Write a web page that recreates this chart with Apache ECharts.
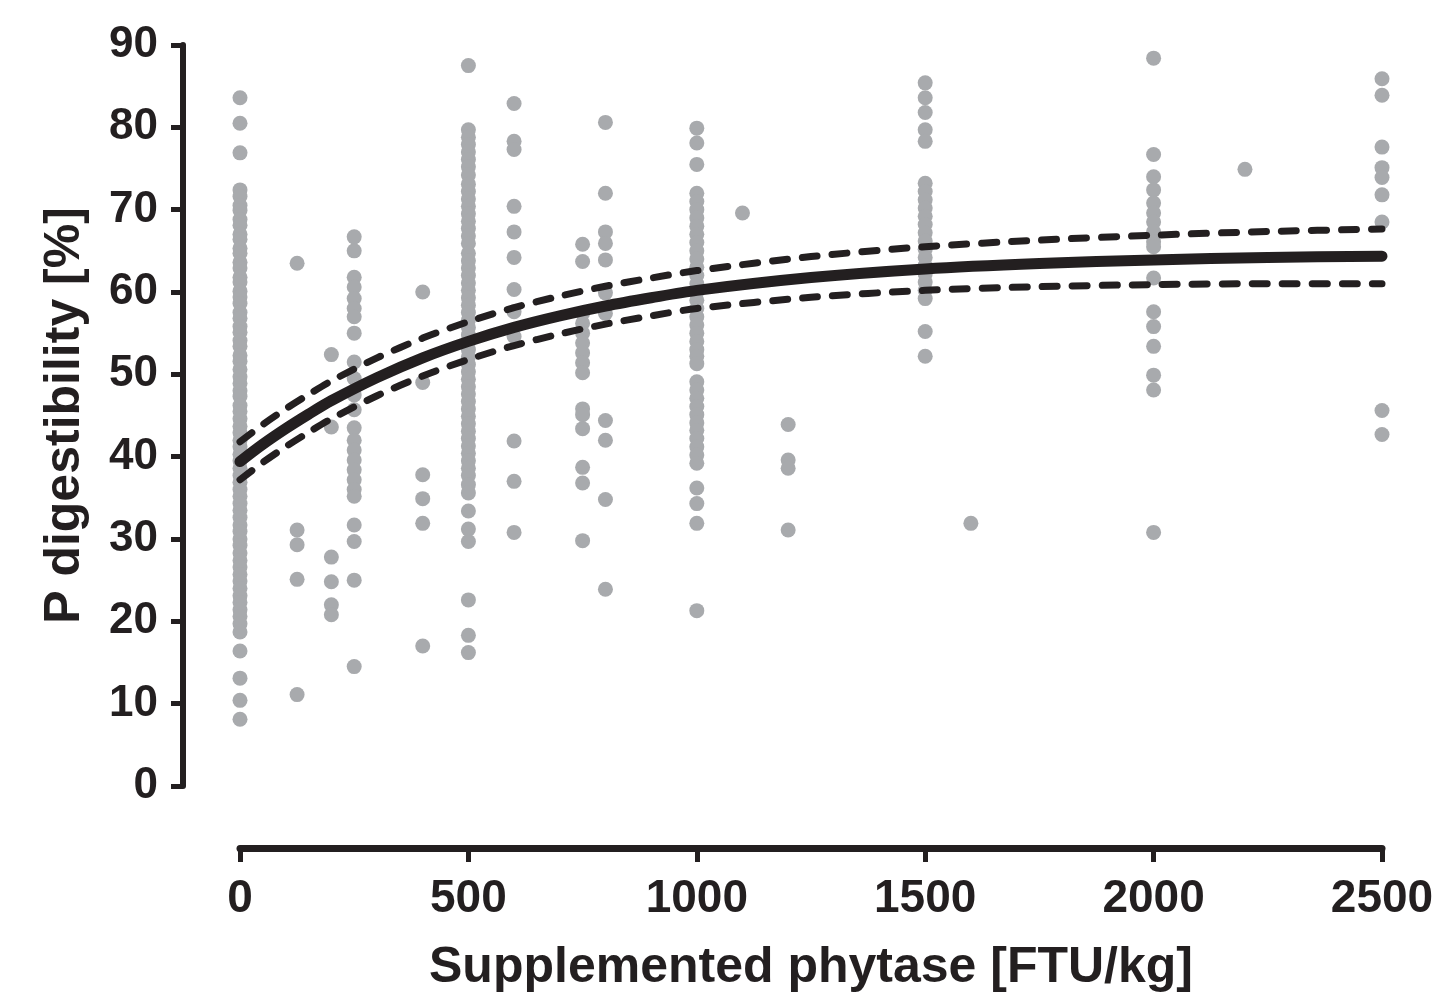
<!DOCTYPE html>
<html>
<head>
<meta charset="utf-8">
<script src="https://cdn.jsdelivr.net/npm/echarts@6/dist/echarts.min.js"></script>
<style>
html,body{margin:0;padding:0;background:#ffffff;}
#chart{width:1448px;height:1000px;}
</style>
</head>
<body>
<div id="chart"></div>
<script>
// Tick labels
const xTicks = [0, 500, 1000, 1500, 2000, 2500];
const yTicks = [0, 10, 20, 30, 40, 50, 60, 70, 80, 90];

// Observed P digestibility (%) at each supplemented phytase level (FTU/kg)
const d0 = [83.6, 80.5, 76.9, 72.4, 71.6, 70.5, 69.9, 68.8, 68.1, 67.0, 66.4, 65.3, 64.7, 63.6, 62.9, 61.8, 61.2, 60.1, 59.4, 58.6, 57.5, 56.8, 55.8, 55.1, 54.1, 53.4, 52.3, 51.6, 50.6, 49.7, 48.9, 48.0, 47.3, 46.2, 45.5, 44.6, 43.7, 42.9, 42.0, 41.2, 40.3, 39.5, 38.6, 37.7, 36.9, 36.0, 35.2, 34.3, 33.5, 32.6, 31.7, 30.9, 30.0, 29.2, 28.3, 27.4, 26.6, 25.7, 24.9, 24.0, 23.1, 22.3, 21.4, 20.6, 19.7, 18.7, 16.4, 13.1, 10.4, 8.1];
const d125 = [63.5, 31.1, 29.3, 25.1, 11.1];
const d200 = [52.4, 43.6, 27.8, 24.8, 22.0, 20.8];
const d250 = [66.7, 65.0, 61.8, 60.6, 59.2, 58.0, 57.0, 55.0, 51.5, 49.5, 47.5, 45.7, 43.5, 42.0, 40.8, 39.6, 38.4, 37.2, 36.0, 35.2, 31.7, 29.7, 25.0, 14.5];
const d400 = [60.0, 49.0, 37.8, 34.9, 31.9, 17.0];
const d500 = [87.5, 79.7, 78.8, 77.9, 77.0, 76.1, 75.2, 74.2, 73.1, 72.2, 71.3, 70.4, 69.5, 68.6, 67.7, 66.8, 65.9, 64.7, 63.8, 62.9, 62.0, 61.1, 60.2, 59.3, 58.4, 57.5, 56.6, 55.7, 54.8, 53.9, 53.0, 52.1, 51.2, 50.3, 49.4, 48.5, 47.6, 46.7, 45.8, 44.9, 44.0, 43.1, 42.2, 41.3, 40.4, 39.5, 38.6, 37.7, 36.6, 35.6, 33.4, 31.2, 29.7, 22.6, 18.3, 16.2];
const d600 = [82.9, 78.3, 77.3, 70.4, 67.3, 64.2, 60.3, 57.6, 54.6, 41.9, 37.0, 30.8];
const d750 = [65.8, 63.7, 57.4, 56.2, 55.0, 53.8, 52.6, 51.4, 50.2, 45.8, 45.1, 43.4, 38.7, 36.8, 29.8];
const d800 = [80.6, 72.0, 67.3, 65.9, 63.9, 59.9, 57.4, 44.4, 42.0, 34.8, 23.9];
const d1000 = [79.9, 78.1, 75.5, 72.0, 71.0, 70.0, 69.0, 68.0, 67.0, 66.0, 65.0, 64.0, 63.0, 62.0, 61.0, 60.0, 59.0, 58.0, 57.0, 56.0, 55.0, 54.0, 53.0, 52.2, 51.3, 49.1, 48.1, 47.1, 46.1, 45.1, 44.1, 43.2, 42.2, 41.2, 40.2, 39.2, 36.2, 34.3, 31.9, 21.3];
const d1100 = [69.6];
const d1200 = [43.9, 39.6, 38.6, 31.1];
const d1500 = [85.4, 83.6, 81.8, 79.7, 78.3, 73.2, 72.2, 71.2, 70.2, 69.2, 68.2, 67.2, 66.2, 65.2, 64.2, 63.2, 62.2, 61.2, 60.2, 59.2, 55.2, 52.2];
const d1600 = [31.9];
const d2000 = [88.4, 76.7, 74.0, 72.4, 70.8, 69.6, 68.5, 67.3, 66.1, 65.5, 61.7, 57.6, 55.8, 53.4, 49.9, 48.1, 30.8];
const d2200 = [74.9];
const d2500 = [85.9, 83.9, 77.6, 75.1, 73.9, 71.8, 68.5, 45.6, 42.7];

const levels = [0, 125, 200, 250, 400, 500, 600, 750, 800, 1000, 1100, 1200, 1500, 1600, 2000, 2200, 2500];
const groups = [d0, d125, d200, d250, d400, d500, d600, d750, d800, d1000, d1100, d1200, d1500, d1600, d2000, d2200, d2500];

// Fitted curve and 95% confidence band
const fitX   = [0, 50, 100, 150, 200, 300, 400, 500, 600, 700, 800, 900, 1000, 1250, 1500, 1750, 2000, 2250, 2500];
const fitY   = [39.4, 41.5, 43.4, 45.15, 46.8, 49.6, 52.0, 54.0, 55.7, 57.1, 58.3, 59.3, 60.2, 61.75, 62.8, 63.45, 63.9, 64.2, 64.35];
const upperY = [41.8, 43.9, 45.8, 47.55, 49.2, 52.0, 54.4, 56.4, 58.1, 59.5, 60.7, 61.7, 62.6, 64.3, 65.5, 66.3, 66.9, 67.35, 67.65];
const lowerY = [37.2, 39.3, 41.2, 42.95, 44.6, 47.4, 49.8, 51.8, 53.5, 54.9, 56.1, 57.1, 58.0, 59.35, 60.2, 60.65, 60.9, 61.0, 61.0];

const scatterData = [];
levels.forEach((lv, i) => groups[i].forEach(v => scatterData.push([lv, v])));
const pair = (xs, ys) => xs.map((x, i) => [x, ys[i]]);

const INK = '#231f20';
const FONT = "'Liberation Sans',Arial,Helvetica,sans-serif";
const chart = echarts.init(document.getElementById('chart'), null, {renderer: 'canvas'});
chart.setOption({
  backgroundColor: '#ffffff',
  animation: false,
  grid: {left: 240, right: 66, top: 45, bottom: 214},
  xAxis: {
    type: 'value', min: 0, max: 2500, interval: 500,
    position: 'bottom', offset: 62,
    name: 'Supplemented phytase [FTU/kg]',
    nameLocation: 'middle', nameGap: 95, nameMoveOverlap: false,
    nameTextStyle: {fontFamily: FONT, fontWeight: 'bold', fontSize: 50, color: INK},
    axisLine: {show: true, onZero: false, lineStyle: {color: INK, width: 7}},
    axisTick: {show: true, length: 14, lineStyle: {color: INK, width: 5}},
    axisLabel: {margin: 28, fontFamily: FONT, fontWeight: 'bold', fontSize: 46, color: INK,
      formatter: v => xTicks.includes(v) ? String(v) : ''},
    splitLine: {show: false}
  },
  yAxis: {
    type: 'value', min: 0, max: 90, interval: 10,
    position: 'left', offset: 57,
    name: 'P digestibility [%]',
    nameLocation: 'middle', nameGap: 93, nameRotate: 90, nameMoveOverlap: false,
    nameTextStyle: {fontFamily: FONT, fontWeight: 'bold', fontSize: 50, color: INK},
    axisLine: {show: true, onZero: false, lineStyle: {color: INK, width: 6}},
    axisTick: {show: true, length: 12, lineStyle: {color: INK, width: 5}},
    axisLabel: {margin: 25, fontFamily: FONT, fontWeight: 'bold', fontSize: 44, color: INK,
      formatter: v => yTicks.includes(v) ? String(v) : ''},
    splitLine: {show: false}
  },
  series: [
    {
      type: 'scatter', data: scatterData, symbol: 'circle', symbolSize: 15,
      itemStyle: {color: '#a8aaad', opacity: 1}, z: 1, silent: true
    },
    {
      type: 'line', data: pair(fitX, upperY), smooth: 0.3, showSymbol: false,
      lineStyle: {color: INK, width: 7, type: [15, 15], cap: 'round'}, z: 3, silent: true
    },
    {
      type: 'line', data: pair(fitX, lowerY), smooth: 0.3, showSymbol: false,
      lineStyle: {color: INK, width: 7, type: [15, 15], cap: 'round'}, z: 3, silent: true
    },
    {
      type: 'line', data: pair(fitX, fitY), smooth: 0.3, showSymbol: false,
      lineStyle: {color: INK, width: 11, cap: 'round'}, z: 4, silent: true
    }
  ]
});
</script>
</body>
</html>
